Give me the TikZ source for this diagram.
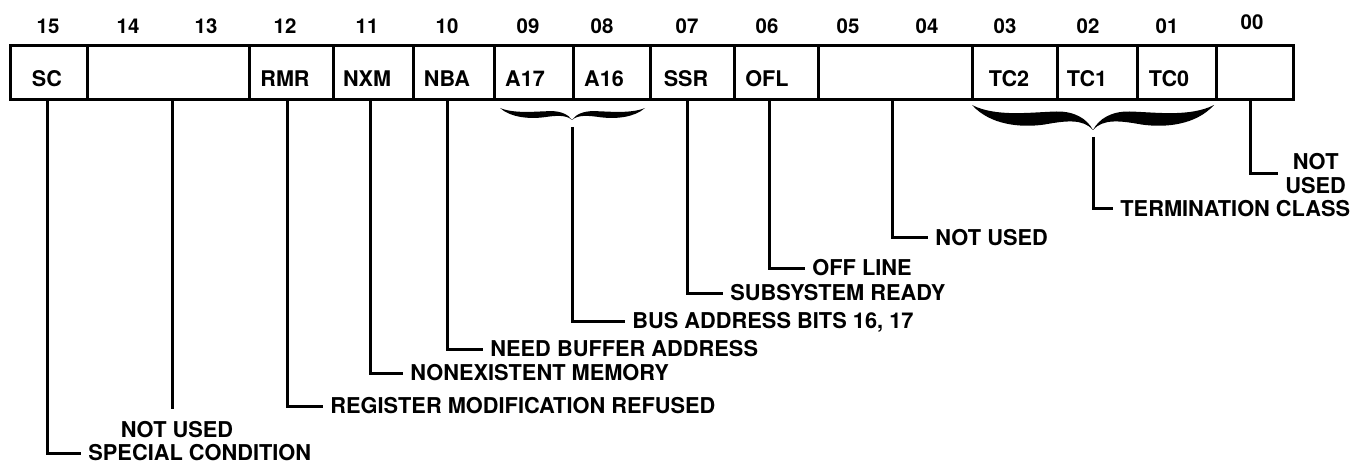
\documentclass[tikz,border=0pt]{standalone}
\usepackage{fontspec}
\setmainfont{TeX Gyre Heros}
\newcommand\bracehalf{%
  \fill (0,0) .. controls (0.15,0.8) and (0.4,0.92) .. (0.6,0.78)
        .. controls (0.78,0.62) and (0.92,0.55) .. (1,1)
        .. controls (0.95,0.55) and (0.85,0.25) .. (0.7,0.26)
        .. controls (0.5,0.28) and (0.2,0.5) .. (0,0) -- cycle;}
\begin{document}
\begin{tikzpicture}[x=0.5pt,y=-0.5pt,
  cell/.style={draw, line width=1.6pt, minimum height=27pt, inner sep=0pt, anchor=north west},
  bitnum/.style={font=\fontsize{10.2}{12}\selectfont\bfseries, inner sep=0pt},
  field/.style={font=\fontsize{10.8}{12.5}\selectfont\bfseries, inner sep=0pt, text height=0.72em, text depth=0pt},
  desc/.style={font=\fontsize{10.9}{12.5}\selectfont\bfseries, inner xsep=3.5pt, inner ysep=0pt, anchor=west, text height=0.72em, text depth=0pt},
  conn/.style={line width=1.5pt}]
\useasboundingbox (0,0) rectangle (1367,465);

% register cells
\node[cell, minimum width=38.5pt] (c15)   at (9,44) {};
\node[cell, minimum width=81pt]   (c1413) at (86,44) {};
\node[cell, minimum width=42pt]   (c12)   at (248,44) {};
\node[cell, minimum width=40pt]   (c11)   at (332,44) {};
\node[cell, minimum width=40.5pt] (c10)   at (412,44) {};
\node[cell, minimum width=39.5pt] (c09)   at (493,44) {};
\node[cell, minimum width=38.5pt] (c08)   at (572,44) {};
\node[cell, minimum width=42pt]   (c07)   at (649,44) {};
\node[cell, minimum width=42pt]   (c06)   at (733,44) {};
\node[cell, minimum width=77pt]   (c0504) at (817,44) {};
\node[cell, minimum width=42.5pt] (c03)   at (971,44) {};
\node[cell, minimum width=40pt]   (c02)   at (1056,44) {};
\node[cell, minimum width=39.5pt] (c01)   at (1136,44) {};
\node[cell, minimum width=38.5pt] (c00)   at (1215,44) {};

% bit numbers
\node[bitnum] (n15) at (48,26) {15};
\node[bitnum] (n14) at (128,26) {14};
\node[bitnum] (n13) at (206,26) {13};
\node[bitnum] (n12) at (285,26) {12};
\node[bitnum] (n11) at (367,26) {11};
\node[bitnum] (n10) at (447,26) {10};
\node[bitnum] (n09) at (528,26) {09};
\node[bitnum] (n08) at (602,26) {08};
\node[bitnum] (n07) at (687,26) {07};
\node[bitnum] (n06) at (767,26) {06};
\node[bitnum] (n05) at (848,26) {05};
\node[bitnum] (n04) at (927,26) {04};
\node[bitnum] (n03) at (1005,26) {03};
\node[bitnum] (n02) at (1088,26) {02};
\node[bitnum] (n01) at (1167,26) {01};
\node[bitnum] (n00) at (1252,22) {00};

% field names
\node[field] (f15) at (47,79) {SC};
\node[field] (f12) at (285,79) {RMR};
\node[field] (f11) at (367,79) {NXM};
\node[field] (f10) at (447,79) {NBA};
\node[field] (f09) at (525,79) {A17};
\node[field] (f08) at (604,79) {A16};
\node[field] (f07) at (686,79) {SSR};
\node[field] (f06) at (767,79) {OFL};
\node[field] (f03) at (1009,79) {TC2};
\node[field] (f02) at (1087,79) {TC1};
\node[field] (f01) at (1169,79) {TC0};

% braces
\begin{scope}[shift={(500,108)}, xscale=72, yscale=12]\bracehalf\end{scope}
\begin{scope}[shift={(645,108)}, xscale=-73, yscale=12]\bracehalf\end{scope}
\begin{scope}[shift={(972,105)}, xscale=121, yscale=25]\bracehalf\end{scope}
\begin{scope}[shift={(1214,105)}, xscale=-121, yscale=25]\bracehalf\end{scope}

% descriptions
\node[desc] (l15)   at (81,453)  {SPECIAL CONDITION};
\node[font=\fontsize{10.9}{12.5}\selectfont\bfseries, inner sep=0pt] (l1413) at (177,430) {NOT USED};
\node[desc] (l12)   at (323,406) {REGISTER MODIFICATION REFUSED};
\node[desc] (l11)   at (403,373) {NONEXISTENT MEMORY};
\node[desc] (l10)   at (483,349) {NEED BUFFER ADDRESS};
\node[desc] (lA)    at (625,321) {BUS ADDRESS BITS 16, 17};
\node[desc] (l07)   at (723,293) {SUBSYSTEM READY};
\node[desc] (l06)   at (805,268) {OFF LINE};
\node[desc] (l0504) at (928,238) {NOT USED};
\node[desc] (lTC)   at (1113,209) {TERMINATION CLASS};
\node[desc, align=center, text height=, text depth=, font=\fontsize{10.9}{12}\selectfont\bfseries] (l00) at (1278,174) {NOT\\USED};

% connector bends
\coordinate (b15)   at (47,453);
\coordinate (b1413) at (172,409);
\coordinate (b12)   at (287,406);
\coordinate (b11)   at (370,373);
\coordinate (b10)   at (447,349);
\coordinate (bA)    at (572,127);
\coordinate (b07)   at (687,293);
\coordinate (b06)   at (769,268);
\coordinate (b0504) at (892,238);
\coordinate (bTC)   at (1093,137);
\coordinate (b00)   at (1250,174);

\draw[conn] (c15.south -| b15) |- (l15.west);
\draw[conn] (c1413.south -| b1413) -- (b1413);
\draw[conn] (c12.south -| b12) |- (l12.west);
\draw[conn] (c11.south -| b11) |- (l11.west);
\draw[conn] (c10.south -| b10) |- (l10.west);
\draw[conn] (bA) |- (lA.west);
\draw[conn] (c07.south -| b07) |- (l07.west);
\draw[conn] (c06.south -| b06) |- (l06.west);
\draw[conn] (c0504.south -| b0504) |- (l0504.west);
\draw[conn] (bTC) |- (lTC.west);
\draw[conn] (c00.south -| b00) |- (l00.west);
\end{tikzpicture}
\end{document}
